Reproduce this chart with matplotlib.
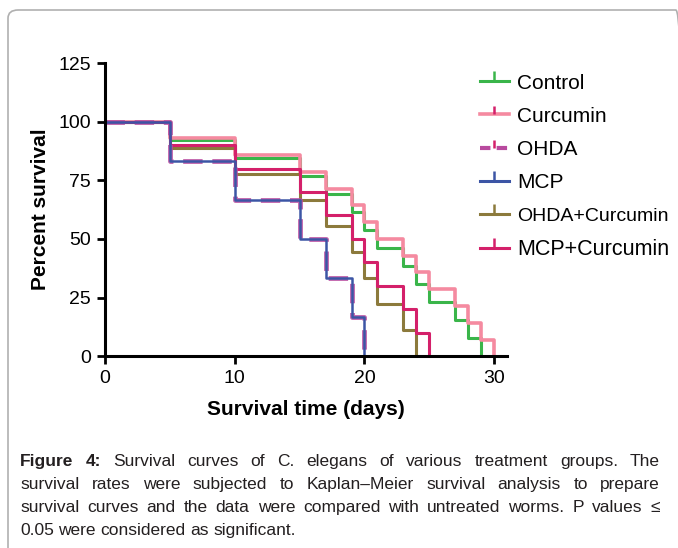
import matplotlib.pyplot as plt
from matplotlib.lines import Line2D
from matplotlib.patches import FancyBboxPatch
from matplotlib.path import Path

plt.rcParams['font.family'] = ['Liberation Sans', 'DejaVu Sans']

# Kaplan-Meier steps (time in days, percent survival)
ctrl_t = [0, 5, 10, 15, 17, 19, 20, 21, 23, 24, 25, 27, 28, 29]
ctrl_s = [100, 92.3, 84.6, 76.9, 69.2, 61.5, 53.8, 46.2, 38.5, 30.8, 23.1, 15.4, 7.7, 0]
curc_t = [0, 5, 10, 15, 17, 19, 20, 21, 23, 24, 25, 27, 28, 29, 30]
curc_s = [100, 92.9, 85.7, 78.6, 71.4, 64.3, 57.1, 50.0, 42.9, 35.7, 28.6, 21.4, 14.3, 7.1, 0]
ohda_t = [0, 5, 10, 15, 17, 19, 20]
ohda_s = [100, 83.3, 66.7, 50.0, 33.3, 16.7, 0]
mcp_t = [0, 5, 10, 15, 17, 19, 20]
mcp_s = [100, 83.3, 66.7, 50.0, 33.3, 16.7, 0]
ohdac_t = [0, 5, 10, 15, 17, 19, 20, 21, 23, 24]
ohdac_s = [100, 88.9, 77.8, 66.7, 55.6, 44.4, 33.3, 22.2, 11.1, 0]
mcpc_t = [0, 5, 10, 15, 17, 19, 20, 21, 23, 24, 25]
mcpc_s = [100, 90, 80, 70, 60, 50, 40, 30, 20, 10, 0]

labels = ['Control', 'Curcumin', 'OHDA', 'MCP', 'OHDA+Curcumin', 'MCP+Curcumin']
caption = [
    ['Figure 4:', 'Survival curves of C. elegans of various treatment groups. The'],
    ['', 'survival rates were subjected to Kaplan\u2013Meier survival analysis to prepare'],
    ['', 'survival curves and the data were compared with untreated worms. P values \u2264'],
    ['', '0.05 were considered as significant.'],
]

c_ctrl = '#3ab54a'
c_curc = '#f58aa0'
c_ohda = '#b84a9e'
c_mcp = '#3c55a5'
c_ohdac = '#8c7a3c'
c_mcpc = '#d4206a'

fig = plt.figure(figsize=(6.78, 5.48), dpi=100)
box = FancyBboxPatch((8 / 678, -0.1), 1.0, 1.1 - 10 / 548,
                     boxstyle='round,pad=0,rounding_size=0.015',
                     transform=fig.transFigure, fc='none',
                     ec='#b0b0b0', lw=1.2, zorder=-1)
fig.patches.append(box)

ax = fig.add_axes([0.155, 0.350, 0.593, 0.535])
ax.patch.set_alpha(0)
ax.step(ctrl_t, ctrl_s, where='post', color=c_ctrl, lw=2.2)
ax.step(curc_t, curc_s, where='post', color=c_curc, lw=2.6)
ax.step(ohdac_t, ohdac_s, where='post', color=c_ohdac, lw=2.2)
ax.step(mcpc_t, mcpc_s, where='post', color=c_mcpc, lw=2.2)
ax.step(ohda_t, ohda_s, where='post', color=c_ohda, lw=3.5, ls=(0, (4, 2)), alpha=0.85)
ax.step(mcp_t, mcp_s, where='post', color=c_mcp, lw=1.8)

ax.set_xlim(0, 31)
ax.set_ylim(0, 125)
ax.set_xticks([0, 10, 20, 30])
ax.set_yticks([0, 25, 50, 75, 100, 125])
for s in ['top', 'right']:
    ax.spines[s].set_visible(False)
for s in ['left', 'bottom']:
    ax.spines[s].set_linewidth(2.2)
ax.tick_params(width=2, length=6, labelsize=14, pad=4)
ax.set_xlabel('Survival time (days)', fontsize=15, fontweight='bold', labelpad=9)
ax.set_ylabel('Percent survival', fontsize=15, fontweight='bold', labelpad=6)

# censor tick used in the legend handles (points upward from the line)
tick = Path([(0, 0), (0, 1)], [Path.MOVETO, Path.LINETO])
handles = [
    Line2D([], [], color=c_ctrl, lw=2.2, marker=tick, ms=14, mew=1.8, mec=c_ctrl),
    Line2D([], [], color=c_curc, lw=2.6, marker=tick, ms=12, mew=1.8, mec=c_mcpc),
    Line2D([], [], color=c_ohda, lw=3, ls=(0, (2.5, 1.5)), marker=tick, ms=12, mew=1.8, mec=c_mcpc),
    Line2D([], [], color=c_mcp, lw=2.2, marker=tick, ms=14, mew=1.8, mec=c_mcp),
    Line2D([], [], color=c_ohdac, lw=2.2, marker=tick, ms=14, mew=1.8, mec=c_ohdac),
    Line2D([], [], color=c_mcpc, lw=2.2, marker=tick, ms=14, mew=1.8, mec=c_mcpc),
]
leg = fig.legend(handles, labels, loc='upper left', bbox_to_anchor=(0.68, 0.9),
                 frameon=False, fontsize=15, handlelength=1.4, handletextpad=0.4,
                 labelspacing=0.68)
leg.get_texts()[4].set_fontsize(14)
leg.get_texts()[5].set_fontsize(15.5)

# justified caption, placed word by word
fig.canvas.draw()
r = fig.canvas.get_renderer()
x0, x1 = 20, 660
ys = [466, 489, 512, 535]
fs = 12.5
for i, (bold, rest) in enumerate(caption):
    words = []
    if bold:
        words += [(w, 'bold') for w in bold.split()]
    words += [(w, 'normal') for w in rest.split()]
    arts = []
    for w, wt in words:
        t = fig.text(0, 1 - ys[i] / 548, w, fontsize=fs, fontweight=wt,
                     color='#231f20', va='baseline', ha='left')
        arts.append(t)
    widths = [t.get_window_extent(r).width for t in arts]
    if i < len(caption) - 1:
        gap = (x1 - x0 - sum(widths)) / (len(arts) - 1)
    else:
        gap = 4.5
    x = x0
    for t, wd in zip(arts, widths):
        t.set_x(x / 678)
        x += wd + gap

fig.savefig('out.png', dpi=100)
